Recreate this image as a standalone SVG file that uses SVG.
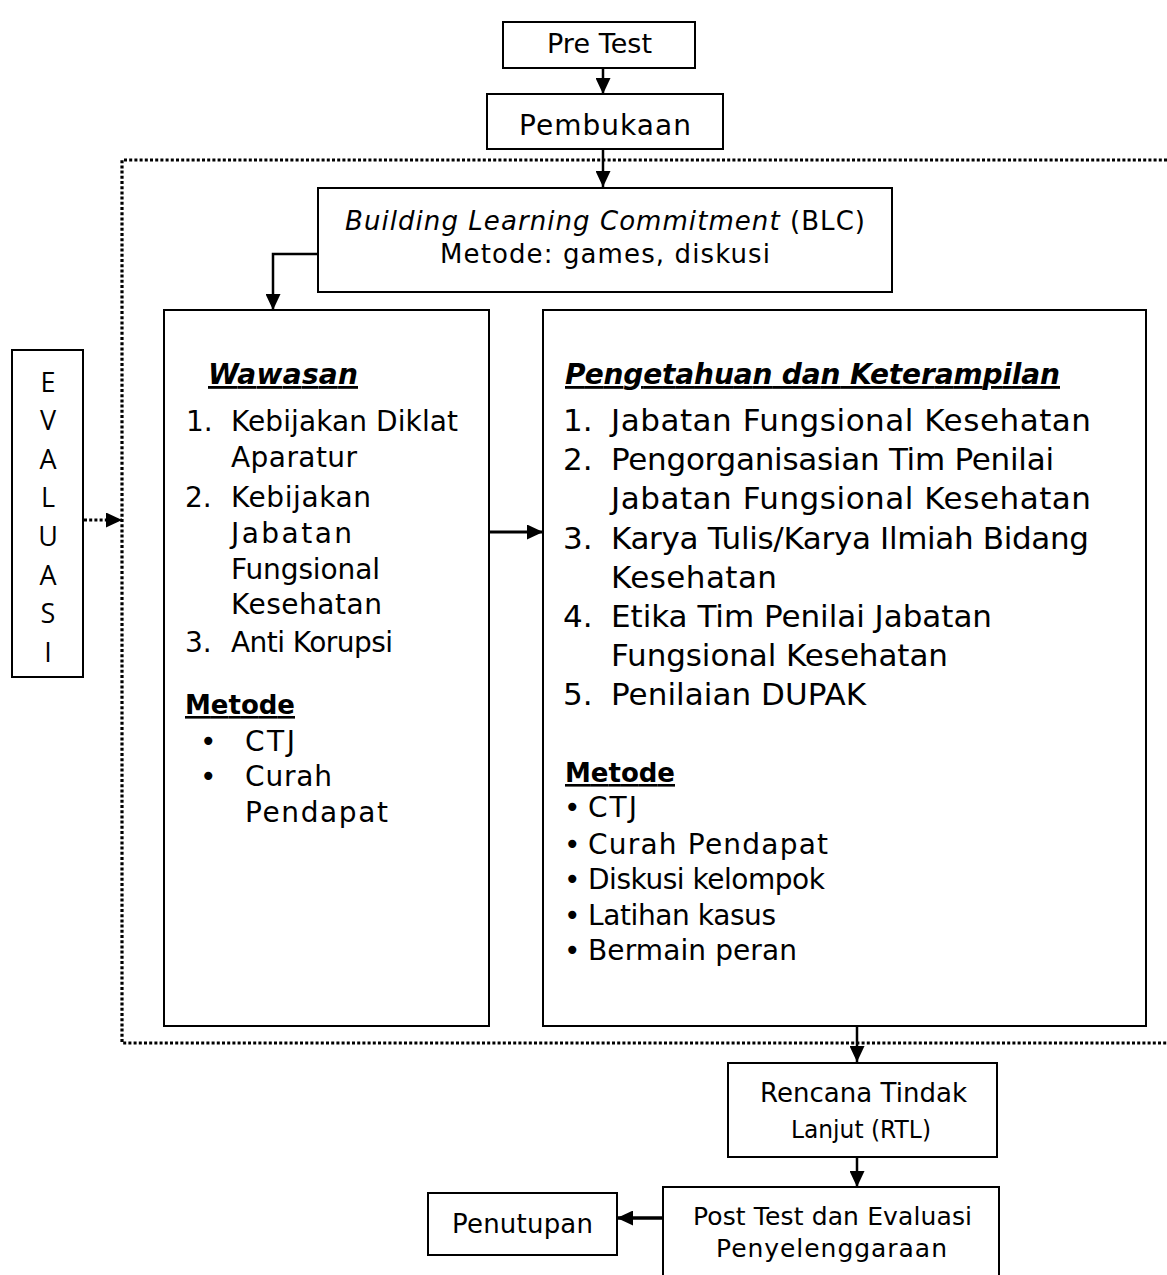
<svg xmlns="http://www.w3.org/2000/svg" width="1167" height="1275" viewBox="0 0 1167 1275">
<style>
.box{fill:#fff;stroke:#000;stroke-width:2}
.t{font-family:"DejaVu Sans","Liberation Sans",sans-serif;fill:#000}
.c{text-anchor:middle}
.ev{font-family:"Open Sans","DejaVu Sans",sans-serif;font-size:27px;text-anchor:middle;fill:#000}
.con{fill:none;stroke:#000;stroke-width:2.5}
.dot{fill:none;stroke:#000;stroke-width:3.2;stroke-dasharray:3 2.2}
.h{font-weight:bold;text-decoration:underline}
</style>
<defs>
<marker id="ah" markerUnits="userSpaceOnUse" markerWidth="16" markerHeight="15" refX="16" refY="7.5" orient="auto">
<path d="M0,0 L16,7.5 L0,15 z" fill="#000"/>
</marker>
</defs>
<rect width="1167" height="1275" fill="#fff"/>

<g id="connectors">
<path class="dot" d="M1167,160 H122 V1043 H1167"/>
<path class="con" d="M603,68 V94" marker-end="url(#ah)"/>
<path class="con" d="M603,149 V187" marker-end="url(#ah)"/>
<path class="con" d="M318,254 H273 V310" marker-end="url(#ah)"/>
<path class="con" style="stroke-width:3" d="M489,532 H543" marker-end="url(#ah)"/>
<path class="dot" d="M84,520 H122" marker-end="url(#ah)"/>
<path class="con" d="M857,1026 V1062" marker-end="url(#ah)"/>
<path class="con" d="M857,1157 V1187" marker-end="url(#ah)"/>
<path class="con" style="stroke-width:3.5" d="M663,1218 H617" marker-end="url(#ah)"/>
</g>

<g id="pretest">
<rect class="box" x="503" y="22" width="192" height="46"/>
<text class="t c" x="599.5" y="53" font-size="27" textLength="105">Pre Test</text>
</g>

<g id="pembukaan">
<rect class="box" x="487" y="94" width="236" height="55"/>
<text class="t c" x="605" y="135" font-size="28" textLength="172">Pembukaan</text>
</g>

<g id="blc">
<rect class="box" x="318" y="188" width="574" height="104"/>
<text class="t c" x="605" y="230" font-size="26" textLength="520"><tspan font-style="italic">Building Learning Commitment</tspan> (BLC)</text>
<text class="t c" x="605" y="263" font-size="26" textLength="330">Metode: games, diskusi</text>
</g>

<g id="evaluasi">
<rect class="box" x="12" y="350" width="71" height="327"/>
<text class="ev" x="48" y="392">E</text>
<text class="ev" x="48" y="430">V</text>
<text class="ev" x="48" y="469">A</text>
<text class="ev" x="48" y="507">L</text>
<text class="ev" x="48" y="546">U</text>
<text class="ev" x="48" y="585">A</text>
<text class="ev" x="48" y="623">S</text>
<text class="ev" x="48" y="662">I</text>
</g>

<g id="wawasan">
<rect class="box" x="164" y="310" width="325" height="716"/>
<text class="t h" x="208" y="384" font-size="28" font-style="italic" textLength="150">Wawasan</text>
<g class="t" font-size="28">
<text x="186" y="431">1.</text>
<text x="231" y="431" textLength="227">Kebijakan Diklat</text>
<text x="231" y="467" textLength="126">Aparatur</text>
<text x="185" y="507">2.</text>
<text x="231" y="507" textLength="140">Kebijakan</text>
<text x="231" y="543" textLength="121">Jabatan</text>
<text x="231" y="579" textLength="149">Fungsional</text>
<text x="231" y="614" textLength="151">Kesehatan</text>
<text x="185" y="652">3.</text>
<text x="231" y="652" textLength="162">Anti Korupsi</text>
</g>
<text class="t h" x="185" y="714" font-size="26" textLength="110">Metode</text>
<g class="t" font-size="28">
<text x="200" y="751">•</text>
<text x="245" y="751" textLength="50">CTJ</text>
<text x="200" y="786">•</text>
<text x="245" y="786" textLength="87">Curah</text>
<text x="245" y="822" textLength="143">Pendapat</text>
</g>
</g>

<g id="pengetahuan">
<rect class="box" x="543" y="310" width="603" height="716"/>
<text class="t h" x="565" y="384" font-size="28" font-style="italic" textLength="495">Pengetahuan dan Keterampilan</text>
<g class="t" font-size="31">
<text x="563" y="431">1.</text>
<text x="611" y="431" textLength="480">Jabatan Fungsional Kesehatan</text>
<text x="563" y="470">2.</text>
<text x="611" y="470" textLength="443">Pengorganisasian Tim Penilai</text>
<text x="611" y="509" textLength="480">Jabatan Fungsional Kesehatan</text>
<text x="563" y="549">3.</text>
<text x="611" y="549" textLength="478">Karya Tulis/Karya Ilmiah Bidang</text>
<text x="611" y="588" textLength="166">Kesehatan</text>
<text x="563" y="627">4.</text>
<text x="611" y="627" textLength="381">Etika Tim Penilai Jabatan</text>
<text x="611" y="666" textLength="337">Fungsional Kesehatan</text>
<text x="563" y="705">5.</text>
<text x="611" y="705" textLength="255">Penilaian DUPAK</text>
</g>
<text class="t h" x="565" y="782" font-size="26" textLength="110">Metode</text>
<g class="t" font-size="28">
<text x="564" y="817">•</text>
<text x="588" y="817" textLength="49">CTJ</text>
<text x="564" y="854">•</text>
<text x="588" y="854" textLength="240">Curah Pendapat</text>
<text x="564" y="889">•</text>
<text x="588" y="889" textLength="237">Diskusi kelompok</text>
<text x="564" y="925">•</text>
<text x="588" y="925" textLength="188">Latihan kasus</text>
<text x="564" y="960">•</text>
<text x="588" y="960" textLength="209">Bermain peran</text>
</g>
</g>

<g id="rtl">
<rect class="box" x="728" y="1063" width="269" height="94"/>
<text class="t c" x="863.5" y="1102" font-size="26" textLength="207">Rencana Tindak</text>
<text class="t c" x="861" y="1138" font-size="24" textLength="140" lengthAdjust="spacingAndGlyphs">Lanjut (RTL)</text>
</g>

<g id="posttest">
<rect class="box" x="663" y="1187" width="336" height="100"/>
<text class="t c" x="832.5" y="1225" font-size="25" textLength="279">Post Test dan Evaluasi</text>
<text class="t c" x="831.5" y="1257" font-size="25" textLength="231">Penyelenggaraan</text>
</g>

<g id="penutupan">
<rect class="box" x="428" y="1193" width="189" height="62"/>
<text class="t c" x="522.5" y="1233" font-size="26" textLength="141">Penutupan</text>
</g>
</svg>
